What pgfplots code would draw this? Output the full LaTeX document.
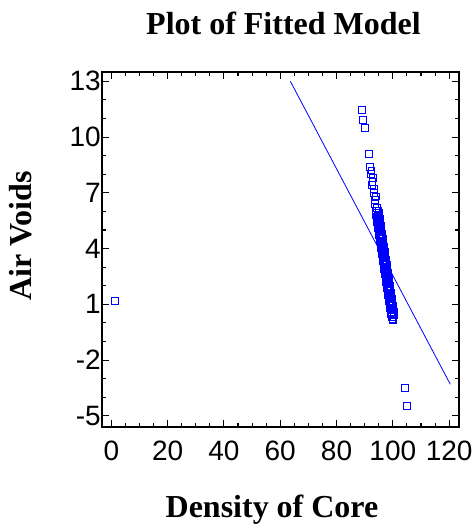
\documentclass[border=0pt]{standalone}
\usepackage{fontspec}
\setmainfont{Liberation Serif}
\newfontfamily\sansf{Liberation Sans}
\usepackage{pgfplots}
\pgfplotsset{compat=1.18}

\begin{document}
\begin{tikzpicture}
\useasboundingbox (-102pt,-100pt) rectangle (374pt,427pt);
\begin{axis}[
 at={(0,0)}, anchor=south west,
 scale only axis, width=357pt, height=355pt,
 xmin=-3.3, xmax=123.5, ymin=-5.6, ymax=13.5,
 xtick={0,20,40,60,80,100,120}, minor x tick num=3,
 ytick={-5,-2,1,4,7,10,13}, minor y tick num=2,
 xticklabels={0,20,40,60,80,100,120},
 yticklabels={-5,-2,1,4,7,10,13},
 tick pos=both, tick align=inside,
 major tick length=7pt, minor tick length=4pt,
 axis line style={line width=1.3pt},
 every tick/.append style={black, line width=1.1pt},
 ticklabel style={font=\sansf\fontsize{28}{30}\selectfont},
 xticklabel style={yshift=-10pt},
 yticklabel style={inner xsep=1pt},
]
\addplot[blue, line width=0.8pt] coordinates {(63.6,13.0) (120.4,-3.3)};
\addplot[only marks, mark=square, mark size=3.4pt, blue, mark options={line width=1pt}] table {
x y
1.4 1.2
104.2 -3.5
104.9 -4.45
89.0 11.47
89.5 10.93
90.2 10.5
91.4 9.1
92.0 8.4
92.4 8.2
92.3 8.0
92.9 7.8
92.8 7.6
92.7 7.4
93.4 7.2
93.3 7.0
93.9 6.8
93.8 6.6
93.7 6.4
94.4 6.2
93.9 6.0
94.9 6.0
94.0 5.9
95.0 5.9
94.1 5.8
95.1 5.8
94.2 5.7
95.2 5.7
94.3 5.6
95.3 5.6
94.4 5.5
95.4 5.5
94.5 5.4
95.5 5.4
94.6 5.3
95.6 5.3
94.7 5.2
95.7 5.2
94.8 5.1
95.8 5.1
94.9 5.0
95.9 5.0
95.0 4.9
96.0 4.9
95.1 4.8
96.1 4.8
95.2 4.7
96.2 4.7
95.3 4.6
96.3 4.6
95.4 4.5
96.4 4.5
95.5 4.4
96.5 4.4
95.6 4.3
96.6 4.3
95.7 4.2
96.7 4.2
95.8 4.1
96.8 4.1
95.9 4.0
96.9 4.0
96.0 3.9
97.0 3.9
96.1 3.8
97.1 3.8
96.2 3.7
97.2 3.7
96.3 3.6
97.3 3.6
96.4 3.5
97.4 3.5
96.5 3.4
97.5 3.4
96.6 3.3
97.6 3.3
96.7 3.2
97.7 3.2
96.8 3.1
97.8 3.1
96.9 3.0
97.9 3.0
97.0 2.9
98.0 2.9
97.1 2.8
98.1 2.8
97.2 2.7
98.2 2.7
97.3 2.6
98.3 2.6
97.4 2.5
98.4 2.5
97.5 2.4
98.5 2.4
97.6 2.3
98.6 2.3
97.7 2.2
98.7 2.2
97.8 2.1
98.8 2.1
97.9 2.0
98.9 2.0
98.0 1.9
99.0 1.9
98.1 1.8
99.1 1.8
98.2 1.7
99.2 1.7
98.3 1.6
99.3 1.6
98.4 1.5
99.4 1.5
98.5 1.4
99.5 1.4
98.6 1.3
99.6 1.3
98.7 1.2
99.7 1.2
98.8 1.1
99.8 1.1
98.9 1.0
99.9 1.0
99.0 0.9
100.0 0.9
99.1 0.8
100.1 0.8
99.2 0.7
100.2 0.7
99.3 0.6
100.3 0.6
99.4 0.5
100.4 0.5
99.6 0.4
100.3 0.4
99.8 0.3
100.2 0.3
99.9 0.2
100.1 0.14
94.6 5.75
94.8 5.55
95.0 5.35
95.2 5.15
95.4 4.95
95.6 4.75
95.8 4.55
96.0 4.35
96.2 4.15
96.4 3.95
96.6 3.75
96.8 3.55
97.0 3.35
97.2 3.15
97.4 2.95
97.6 2.75
97.8 2.55
98.0 2.35
98.2 2.15
98.4 1.95
98.6 1.75
98.8 1.55
99.0 1.35
99.2 1.15
99.4 0.95
99.6 0.75
99.8 0.55
};
\end{axis}
\node[anchor=base, font=\bfseries\fontsize{32}{34}\selectfont] at (181.5pt,392pt) {Plot of Fitted Model};
\node[anchor=base, font=\bfseries\fontsize{32}{34}\selectfont] at (170pt,-90pt) {Density of Core};
\node[rotate=90, anchor=base, font=\bfseries\fontsize{32}{34}\selectfont] at (-70pt,191pt) {Air Voids};
\end{tikzpicture}
\end{document}
